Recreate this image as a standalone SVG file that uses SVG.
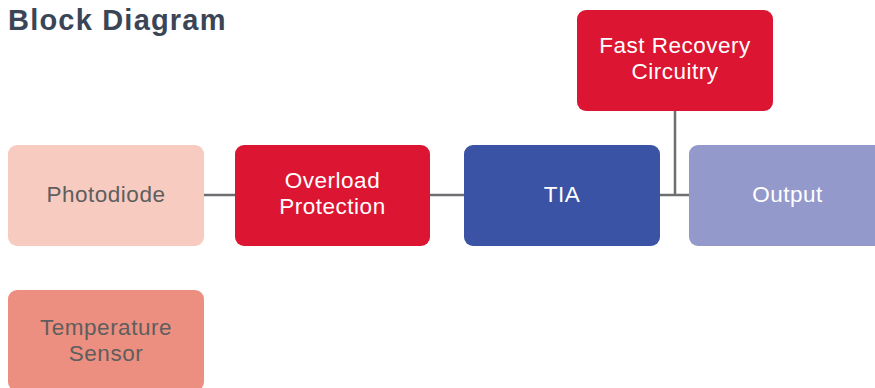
<svg xmlns="http://www.w3.org/2000/svg" width="875" height="388" viewBox="0 0 875 388">
<style>
.lbl{font-family:"Liberation Sans",Arial,sans-serif;font-size:22.5px;letter-spacing:0.5px;text-anchor:middle}
.w{fill:#ffffff}
.g{fill:#5e5e5e}
.conn{stroke:#6d6e71;stroke-width:2.5;fill:none}
.title{font-family:"Liberation Sans",Arial,sans-serif;font-size:29px;font-weight:bold;fill:#3a4556;letter-spacing:1.2px}
</style>
<rect width="875" height="388" fill="#ffffff"/>
<text class="title" x="8" y="30">Block Diagram</text>
<g id="connectors">
<line class="conn" x1="204" y1="195" x2="235" y2="195"/>
<line class="conn" x1="430" y1="195" x2="464" y2="195"/>
<line class="conn" x1="660" y1="195" x2="689" y2="195"/>
<line class="conn" x1="675" y1="111" x2="675" y2="195"/>
</g>
<g id="photodiode">
<rect x="8" y="145" width="196" height="101" rx="9" fill="#f7cbbf"/>
<text class="lbl g" x="106" y="202">Photodiode</text>
</g>
<g id="overload">
<rect x="235" y="145" width="195" height="101" rx="9" fill="#dc1532"/>
<text class="lbl w" x="332.5" y="188">Overload</text>
<text class="lbl w" x="332.5" y="214">Protection</text>
</g>
<g id="tia">
<rect x="464" y="145" width="196" height="101" rx="9" fill="#3a53a4"/>
<text class="lbl w" x="562" y="202">TIA</text>
</g>
<g id="output">
<rect x="689" y="145" width="197" height="101" rx="9" fill="#9499cb"/>
<text class="lbl w" x="787.5" y="202">Output</text>
</g>
<g id="fast-recovery">
<rect x="577" y="10" width="196" height="101" rx="9" fill="#dc1532"/>
<text class="lbl w" x="675" y="53">Fast Recovery</text>
<text class="lbl w" x="675" y="79">Circuitry</text>
</g>
<g id="temperature-sensor">
<rect x="8" y="290" width="196" height="101" rx="9" fill="#ec8f80"/>
<text class="lbl g" x="106" y="335">Temperature</text>
<text class="lbl g" x="106" y="361">Sensor</text>
</g>
</svg>
